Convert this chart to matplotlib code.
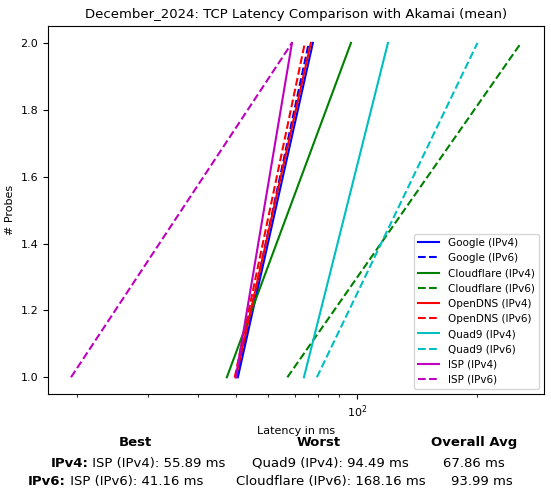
import matplotlib
matplotlib.use("Agg")
import matplotlib.pyplot as plt

labels = ["Google (IPv4)", "Google (IPv6)", "Cloudflare (IPv4)", "Cloudflare (IPv6)",
          "OpenDNS (IPv4)", "OpenDNS (IPv6)", "Quad9 (IPv4)", "Quad9 (IPv6)",
          "ISP (IPv4)", "ISP (IPv6)"]
colors = ["b", "b", "g", "g", "r", "r", "c", "c", "m", "m"]
styles = ["-", "--"] * 5
latency = [
    [50.4, 77.6], [50.1, 75.8], [47.3, 96.6], [67.0, 257.0],
    [49.8, 76.7], [49.5, 74.1], [73.7, 119.5], [79.4, 200.0],
    [49.8, 68.8], [19.3, 68.8],
]
probes = [1, 2]

fig = plt.figure(figsize=(5.51, 4.94), dpi=100)
ax = fig.add_axes([0.087, 0.2024, 0.9, 0.7446])
for lab, c, ls, xs in zip(labels, colors, styles, latency):
    ax.plot(xs, probes, color=c, linestyle=ls, label=lab)
ax.set_xscale("log")
ax.set_xlim(16.9, 293)
ax.set_ylim(0.95, 2.05)
ax.set_xlabel("Latency in ms", fontsize=8)
ax.set_ylabel("# Probes", fontsize=8)
ax.tick_params(labelsize=8)
ax.set_title("December_2024: TCP Latency Comparison with Akamai (mean)", fontsize=9.5)
ax.legend(loc="lower right", fontsize=7.5)

fig.text(0.245, 0.098, "Best", ha="center", fontsize=9.5, weight="bold")
fig.text(0.578, 0.098, "Worst", ha="center", fontsize=9.5, weight="bold")
fig.text(0.86, 0.098, "Overall Avg", ha="center", fontsize=9.5, weight="bold")
fig.text(0.16, 0.055, "IPv4:", ha="right", fontsize=9.5, weight="bold")
fig.text(0.16, 0.055, " ISP (IPv4): 55.89 ms", ha="left", fontsize=9.5)
fig.text(0.6, 0.055, "Quad9 (IPv4): 94.49 ms", ha="center", fontsize=9.5)
fig.text(0.86, 0.055, "67.86 ms", ha="center", fontsize=9.5)
fig.text(0.12, 0.018, "IPv6:", ha="right", fontsize=9.5, weight="bold")
fig.text(0.12, 0.018, " ISP (IPv6): 41.16 ms", ha="left", fontsize=9.5)
fig.text(0.6, 0.018, "Cloudflare (IPv6): 168.16 ms", ha="center", fontsize=9.5)
fig.text(0.875, 0.018, "93.99 ms", ha="center", fontsize=9.5)

fig.savefig("out.png", dpi=100)
